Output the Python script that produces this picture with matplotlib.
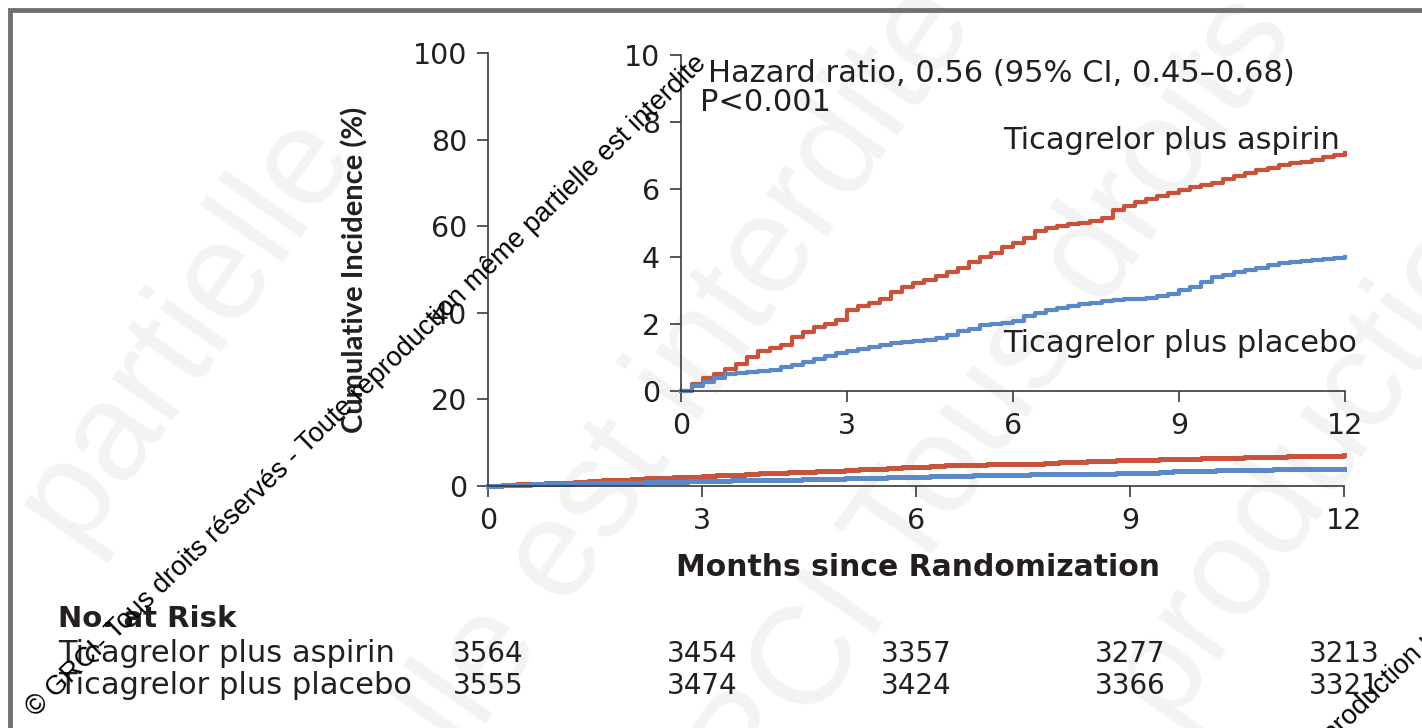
import matplotlib.pyplot as plt
import matplotlib.transforms as mtransforms
from matplotlib.patches import Rectangle
import numpy as np

plt.rcParams['font.family'] = ['DejaVu Sans']

# cumulative incidence (%) read at 0.2-month intervals
months = [round(0.2 * i, 1) for i in range(61)]
aspirin = [0.00, 0.22, 0.40, 0.52, 0.65, 0.80, 1.00, 1.18, 1.28, 1.36,
           1.62, 1.75, 1.90, 2.00, 2.12, 2.40, 2.52, 2.62, 2.75, 2.95,
           3.10, 3.20, 3.30, 3.42, 3.55, 3.66, 3.85, 4.00, 4.12, 4.28,
           4.40, 4.55, 4.75, 4.85, 4.92, 4.97, 5.00, 5.05, 5.15, 5.40,
           5.50, 5.62, 5.72, 5.80, 5.90, 5.98, 6.06, 6.13, 6.20, 6.30,
           6.40, 6.50, 6.58, 6.65, 6.72, 6.78, 6.82, 6.88, 6.95, 7.02,
           7.08]
placebo = [0.00, 0.15, 0.28, 0.40, 0.50, 0.55, 0.58, 0.60, 0.63, 0.70,
           0.77, 0.85, 0.95, 1.03, 1.12, 1.18, 1.25, 1.30, 1.36, 1.42,
           1.45, 1.48, 1.53, 1.58, 1.68, 1.78, 1.86, 1.95, 2.00, 2.03,
           2.08, 2.22, 2.33, 2.40, 2.48, 2.53, 2.58, 2.63, 2.68, 2.72,
           2.73, 2.75, 2.78, 2.82, 2.90, 3.00, 3.10, 3.25, 3.38, 3.46,
           3.54, 3.60, 3.67, 3.74, 3.80, 3.84, 3.87, 3.90, 3.94, 3.97,
           3.99]

risk_months = [0, 3, 6, 9, 12]
risk_aspirin = [3564, 3454, 3357, 3277, 3213]
risk_placebo = [3555, 3474, 3424, 3366, 3321]

RED = '#c9523a'
BLUE = '#5b88c9'
INK = '#231f20'
AXC = '#3a3a3a'

fig = plt.figure(figsize=(14.22, 7.28), dpi=100)

# faint background watermark
wm_kw = dict(color='#f3f3f3', fontsize=100, rotation=55, ha='center', va='center',
             family='Liberation Sans', zorder=-5)
fig.text(0.13, 0.55, 'partielle', **wm_kw)
fig.text(0.47, 0.45, 'elle est interdite', **wm_kw)
fig.text(0.70, 0.45, 'RCI Tous droits', **wm_kw)
fig.text(0.93, 0.40, 'production', **wm_kw)

# outer frame
fig.add_artist(Rectangle((10 / 1422, -0.1), 1.2, 1.1 - 10 / 728,
                         transform=fig.transFigure, fill=False,
                         ec='#707070', lw=3.5, zorder=1))

def style_axes(ax, ymax, yticks):
    for s in ['top', 'right']:
        ax.spines[s].set_visible(False)
    for s in ['left', 'bottom']:
        ax.spines[s].set_color(AXC)
        ax.spines[s].set_linewidth(1.2)
    ax.set_xlim(0, 12)
    ax.set_ylim(0, ymax)
    ax.set_xticks([0, 3, 6, 9, 12])
    ax.set_yticks(yticks)
    ax.tick_params(direction='out', length=8, width=1.2, color=AXC,
                   labelsize=20.5, labelcolor=INK, pad=7)
    ax.patch.set_alpha(0)

# main axes 0-100%
ax = fig.add_axes([488 / 1422, 1 - 486 / 728, 856 / 1422, 433 / 728])
style_axes(ax, 100, [0, 20, 40, 60, 80, 100])
ax.step(months, aspirin, where='post', color=RED, lw=3.6, clip_on=False)
ax.step(months, placebo, where='post', color=BLUE, lw=3.6, clip_on=False)

# inset axes 0-10%
ins = fig.add_axes([681 / 1422, 1 - 391 / 728, 664 / 1422, 336 / 728])
style_axes(ins, 10, [0, 2, 4, 6, 8, 10])
ins.step(months, aspirin, where='post', color=RED, lw=3.0, clip_on=False)
ins.step(months, placebo, where='post', color=BLUE, lw=3.0, clip_on=False)

note_size = 22
ins.text(0.04, 0.946, 'Hazard ratio, 0.56 (95% CI, 0.45\u20130.68)',
         transform=ins.transAxes, fontsize=note_size, color=INK, va='center')
ins.text(0.028, 0.86, 'P<0.001', transform=ins.transAxes, fontsize=note_size,
         color=INK, va='center')
ins.text(0.485, 0.747, 'Ticagrelor plus aspirin', transform=ins.transAxes,
         fontsize=note_size, color=INK, va='center')
ins.text(0.485, 0.14, 'Ticagrelor plus placebo', transform=ins.transAxes,
         fontsize=note_size, color=INK, va='center')

fig.text(355 / 1422, 1 - 270 / 728, 'Cumulative Incidence (%)', rotation=90,
         ha='center', va='center', fontsize=21, fontweight='bold',
         family='Lato', color=INK)
fig.text(918 / 1422, 1 - 567 / 728, 'Months since Randomization',
         ha='center', va='center', fontsize=21.5, fontweight='bold', color=INK)

# number at risk table
fig.text(58 / 1422, 1 - 619 / 728, 'No. at Risk', ha='left', va='center',
         fontsize=21, fontweight='bold', color=INK)
fig.text(58 / 1422, 1 - 654 / 728, 'Ticagrelor plus aspirin', ha='left',
         va='center', fontsize=note_size, color=INK)
fig.text(58 / 1422, 1 - 686 / 728, 'Ticagrelor plus placebo', ha='left',
         va='center', fontsize=note_size, color=INK)
tr = mtransforms.blended_transform_factory(ax.transData, fig.transFigure)
for m, a, p in zip(risk_months, risk_aspirin, risk_placebo):
    fig.text(m, 1 - 654 / 728, str(a), transform=tr, ha='center',
             va='center', fontsize=20, color=INK)
    fig.text(m, 1 - 686 / 728, str(p), transform=tr, ha='center',
             va='center', fontsize=20, color=INK)

# copyright stamp
stamp = '\u00a9 GRCI- Tous droits r\u00e9serv\u00e9s - Toute reproduction m\u00eame partielle est interdite'
fig.text(40 / 1422, 1 - 722 / 728, stamp, rotation=44.2, rotation_mode='anchor',
         ha='left', va='bottom', fontsize=19.5, family='Liberation Sans',
         color='black', zorder=10)
fig.text(995 / 1422, 1 - 1080 / 728, stamp, rotation=44.2, rotation_mode='anchor',
         ha='left', va='bottom', fontsize=19.5, family='Liberation Sans',
         color='black', zorder=10)

fig.savefig('out.png', dpi=100, facecolor='white')
